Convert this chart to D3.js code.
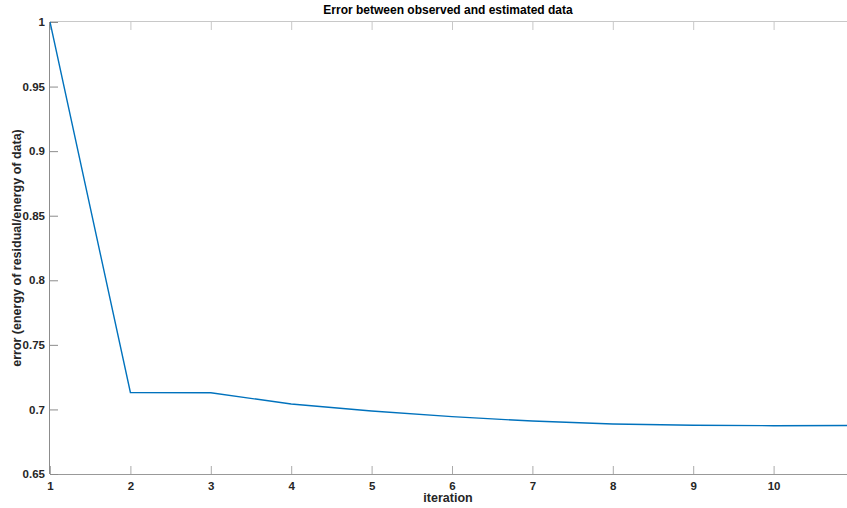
<!DOCTYPE html>
<html><head><meta charset="utf-8">
<script src="https://cdn.jsdelivr.net/npm/d3@7"></script>
<style>body{margin:0;background:#fff;}svg{display:block;font-family:"Liberation Sans",Arial,sans-serif;}</style>
</head><body>
<svg id="c" width="847" height="508"></svg>
<script>
const iterations = [1, 2, 3, 4, 5, 6, 7, 8, 9, 10, 11];
const errorValues = [1.0, 0.7131, 0.7129, 0.7042, 0.6988, 0.6944, 0.6910, 0.6887, 0.6877, 0.6874, 0.6876];
const xTicks = [1, 2, 3, 4, 5, 6, 7, 8, 9, 10];
const yTicks = [0.65, 0.7, 0.75, 0.8, 0.85, 0.9, 0.95, 1];
const titleText = "Error between observed and estimated data";
const xLabel = "iteration";
const yLabel = "error (energy of residual/energy of data)";

const svg = d3.select("#c");
const mLeft = 50, mTop = 22, mBottom = 474, stepPx = 80.4;
const x = d3.scaleLinear().domain([1, 11]).range([mLeft, mLeft + 10 * stepPx]);
const y = d3.scaleLinear().domain([0.65, 1]).range([mBottom, mTop]);

svg.append("rect").attr("width", 847).attr("height", 508).attr("fill", "#fff");

// ticks inward
const xAxisB = d3.axisBottom(x).tickValues(xTicks).tickSize(-8).tickFormat(d3.format("d")).tickPadding(5);
const gB = svg.append("g").attr("transform", `translate(0,${mBottom})`).call(xAxisB);
gB.select(".domain").attr("stroke", "#999").attr("d", `M${mLeft},0.5H847`);
gB.selectAll(".tick line").attr("stroke", "#aaa");
gB.selectAll("text").attr("font-size", 11.5).attr("font-weight", "bold").attr("fill", "#262626").attr("dy", "0.9em").attr("y", 6);

const xAxisT = d3.axisTop(x).tickValues(xTicks).tickSize(-8).tickFormat("");
const gT = svg.append("g").attr("transform", `translate(0,${mTop})`).call(xAxisT);
gT.select(".domain").attr("stroke", "#c8c8c8").attr("d", `M${mLeft},-0.5H847`);
gT.selectAll(".tick line").attr("stroke", "#c8c8c8");

const yAxisL = d3.axisLeft(y).tickValues(yTicks).tickSize(-8).tickFormat(d => d === 1 ? "1" : d3.format(".2~f")(d)).tickPadding(5);
const gL = svg.append("g").attr("transform", `translate(${mLeft},0)`).call(yAxisL);
gL.select(".domain").attr("stroke", "#8c8c8c").attr("d", `M-0.5,${mTop}V${mBottom}`);
gL.selectAll(".tick line").attr("stroke", "#8c8c8c");
gL.selectAll("text").attr("font-size", 11.5).attr("font-weight", "bold").attr("fill", "#262626");

// line
svg.append("clipPath").attr("id", "pc").append("rect")
  .attr("x", mLeft).attr("y", mTop - 2).attr("width", 847 - mLeft).attr("height", mBottom - mTop + 4);
const line = d3.line().x((d, i) => x(iterations[i])).y(d => y(d));
svg.append("path").datum(errorValues).attr("d", line).attr("fill", "none")
  .attr("stroke", "#0072BD").attr("stroke-width", 1.4).attr("clip-path", "url(#pc)");

// titles
svg.append("text").attr("x", 448).attr("y", 14).attr("text-anchor", "middle")
  .attr("font-size", 12).attr("font-weight", "bold").attr("fill", "#000").text(titleText);
svg.append("text").attr("x", 448).attr("y", 502).attr("text-anchor", "middle")
  .attr("font-size", 12.5).attr("font-weight", "bold").attr("fill", "#262626").text(xLabel);
svg.append("text").attr("transform", `translate(21,248) rotate(-90)`).attr("text-anchor", "middle")
  .attr("font-size", 12.5).attr("font-weight", "bold").attr("fill", "#262626").text(yLabel);
</script>
</body></html>
